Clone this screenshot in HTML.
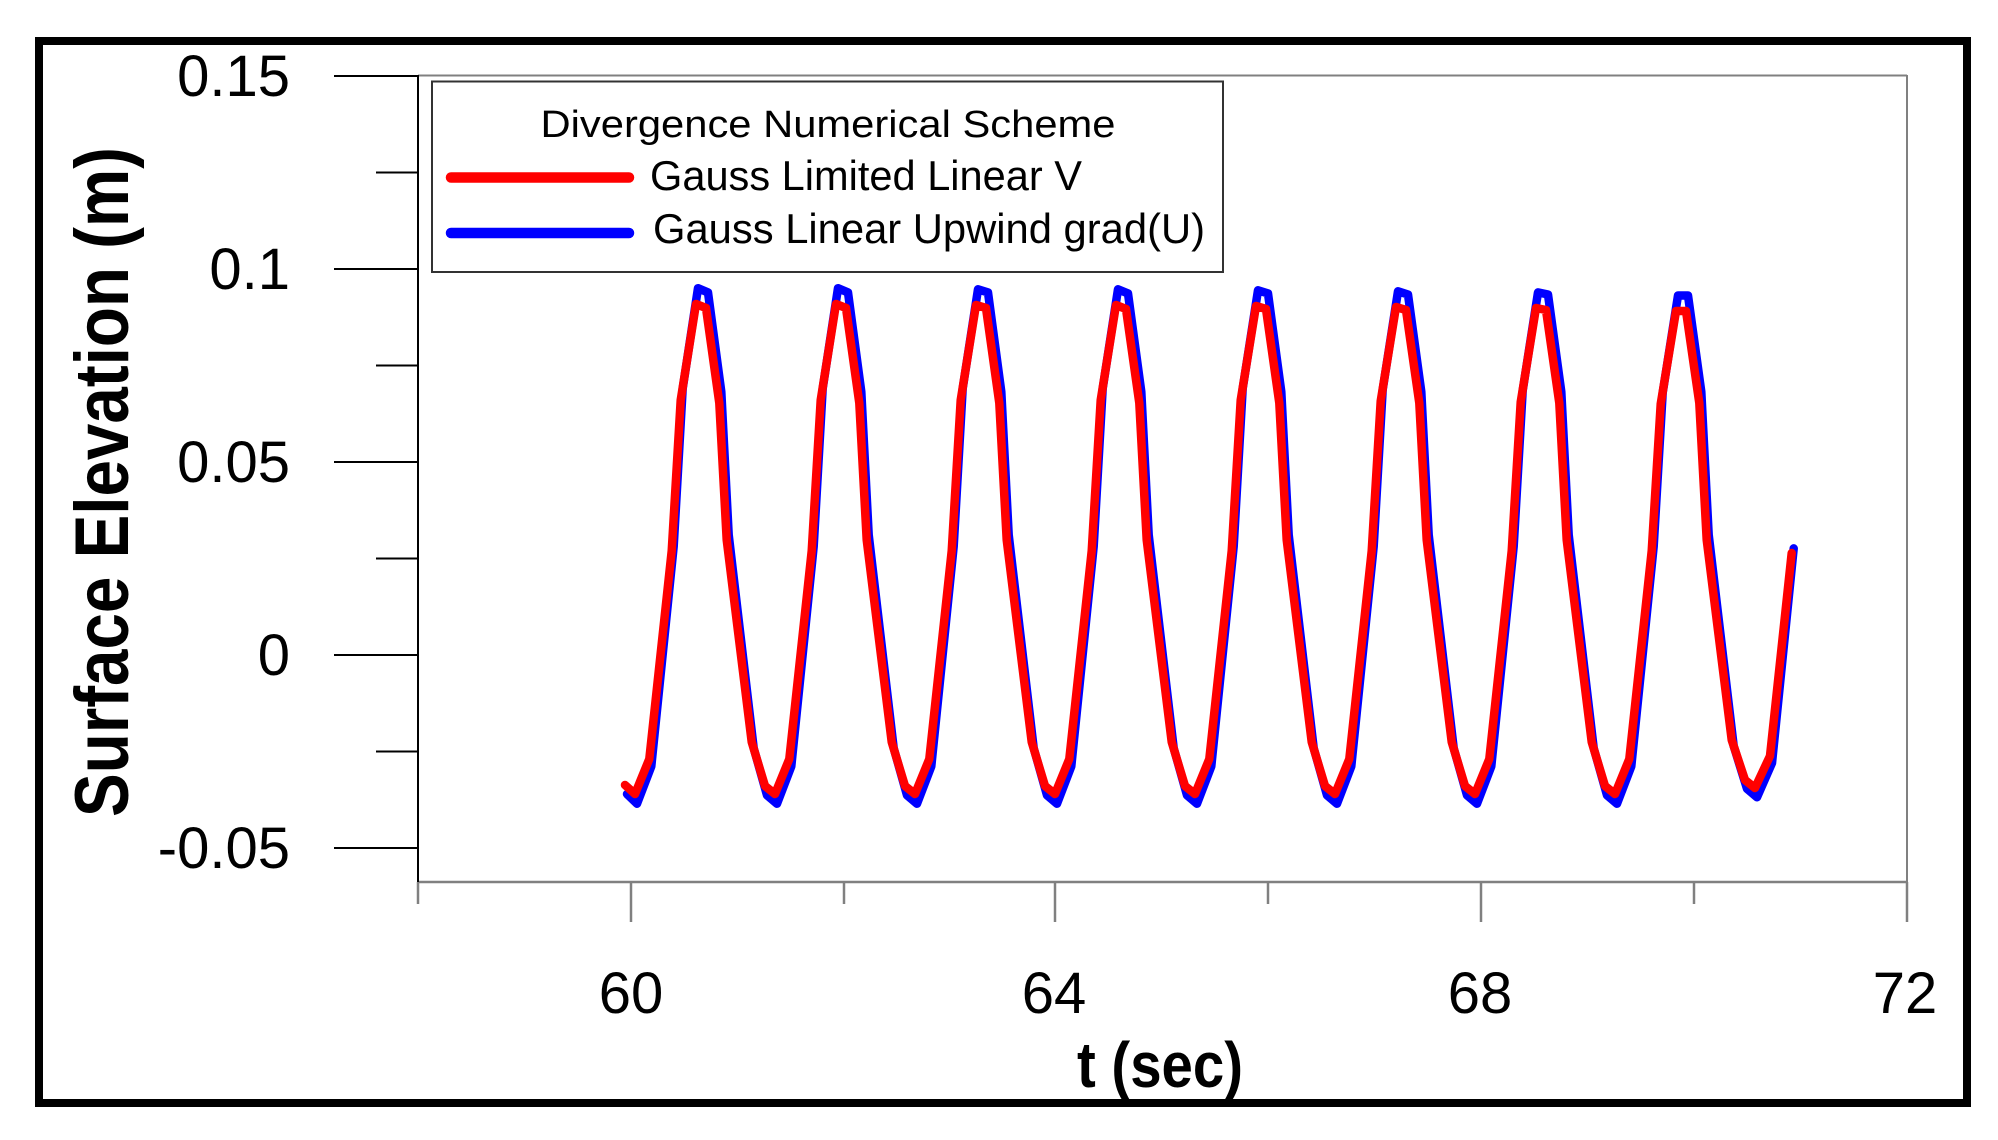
<!DOCTYPE html>
<html>
<head>
<meta charset="utf-8">
<style>
  html, body { margin:0; padding:0; background:#ffffff; }
  svg { display:block; }
  text { font-family: "Liberation Sans", Arial, sans-serif; fill:#000; }
</style>
</head>
<body>
<svg width="1998" height="1140" viewBox="0 0 1998 1140" xmlns="http://www.w3.org/2000/svg">
  <rect x="0" y="0" width="1998" height="1140" fill="#ffffff"/>
  <!-- outer frame -->
  <rect x="39" y="41" width="1928" height="1062" fill="none" stroke="#000" stroke-width="8"/>

  <!-- plot area border -->
  <line x1="418" y1="75.5" x2="1907" y2="75.5" stroke="#808080" stroke-width="2"/>
  <line x1="1907" y1="75" x2="1907" y2="882" stroke="#808080" stroke-width="2"/>
  <!-- x axis -->
  <line x1="418" y1="882" x2="1908" y2="882" stroke="#808080" stroke-width="2.5"/>
  <!-- y axis -->
  <line x1="418" y1="75" x2="418" y2="882" stroke="#000" stroke-width="2"/>

  <!-- y major ticks -->
  <g stroke="#000" stroke-width="2">
    <line x1="334" y1="76" x2="418" y2="76"/>
    <line x1="334" y1="269" x2="418" y2="269"/>
    <line x1="334" y1="462" x2="418" y2="462"/>
    <line x1="334" y1="655" x2="418" y2="655"/>
    <line x1="334" y1="848" x2="418" y2="848"/>
    <!-- minor -->
    <line x1="376" y1="172.5" x2="418" y2="172.5"/>
    <line x1="376" y1="365.5" x2="418" y2="365.5"/>
    <line x1="376" y1="558.5" x2="418" y2="558.5"/>
    <line x1="376" y1="751.5" x2="418" y2="751.5"/>
  </g>

  <!-- x ticks -->
  <g stroke="#808080" stroke-width="2.5">
    <line x1="418" y1="882" x2="418" y2="904"/>
    <line x1="631" y1="882" x2="631" y2="922"/>
    <line x1="844" y1="882" x2="844" y2="904"/>
    <line x1="1055" y1="882" x2="1055" y2="922"/>
    <line x1="1268" y1="882" x2="1268" y2="904"/>
    <line x1="1481" y1="882" x2="1481" y2="922"/>
    <line x1="1694" y1="882" x2="1694" y2="904"/>
    <line x1="1907" y1="882" x2="1907" y2="922"/>
  </g>

  <!-- y tick labels -->
  <g font-size="58" text-anchor="end">
    <text x="290" y="96">0.15</text>
    <text x="290" y="289">0.1</text>
    <text x="290" y="482">0.05</text>
    <text x="290" y="675">0</text>
    <text x="290" y="868">-0.05</text>
  </g>

  <!-- x tick labels -->
  <g font-size="58" text-anchor="middle">
    <text x="631" y="1013">60</text>
    <text x="1054" y="1013">64</text>
    <text x="1480" y="1013">68</text>
    <text x="1905" y="1013">72</text>
  </g>

  <!-- axis titles -->
  <text transform="translate(128,482) rotate(-90)" text-anchor="middle" font-weight="bold" font-size="76" textLength="670" lengthAdjust="spacingAndGlyphs">Surface Elevation (m)</text>
  <text x="1160" y="1087" text-anchor="middle" font-weight="bold" font-size="64" textLength="166" lengthAdjust="spacingAndGlyphs">t (sec)</text>

  <!-- series: blue -->
  <polyline fill="none" stroke="#0000ff" stroke-width="8.5" stroke-linejoin="round" stroke-linecap="round" points="
627,794.1 637,803.7 651.3,766.3 673.7,546.3 682.7,388.5 698,288.2 708,292.4 721.3,391.7 728.7,534.8 753.7,748.1
767,795.2 777,803.7 791.3,766.3 813.7,546.3 822.7,388.5 838,288.2 848,292.4 861.3,391.7 868.7,534.8 893.7,748.1
907,795.2 917,803.7 931.3,766.3 953.7,546.3 962.7,388.5 978,289.3 988,292.4 1001.3,391.7 1008.7,534.8 1033.7,748.1
1047,795.2 1057,803.7 1071.3,766.3 1093.7,546.3 1102.7,388.5 1118,289.3 1128,293.4 1141.3,391.7 1148.7,534.8 1173.7,748.1
1187,795.2 1197,803.7 1211.3,766.3 1233.7,546.3 1242.7,388.5 1258,290.3 1268,293.4 1281.3,391.7 1288.7,534.8 1313.7,748.1
1327,795.2 1337,803.7 1351.3,766.3 1373.7,546.3 1382.7,389.6 1398,291.3 1408,294.5 1421.3,391.7 1428.7,534.8 1453.7,748.1
1467,795.2 1477,803.7 1491.3,766.3 1513.7,546.3 1522.7,390.6 1538,292.4 1548,294.5 1561.3,391.7 1568.7,534.8 1593.7,748.1
1607,795.2 1617,803.7 1631.3,766.3 1653.7,546.3 1662.7,392.7 1678,295.5 1688,295.5 1701.3,391.7 1708.7,534.8 1733.7,746
1747,788.8 1757,797.3 1772,763.1 1793.7,548.4"/>

  <!-- series: red -->
  <polyline fill="none" stroke="#ff0000" stroke-width="8.5" stroke-linejoin="round" stroke-linecap="round" points="
625,785 635,794 649.3,759 671.7,551 680.7,400 696,304 706,308 719.3,403 726.7,540 751.7,742
765,786 775,794 789.3,759 811.7,551 820.7,400 836,304 846,308 859.3,403 866.7,540 891.7,742
905,786 915,794 929.3,759 951.7,551 960.7,400 976,305 986,308 999.3,403 1006.7,540 1031.7,742
1045,786 1055,794 1069.3,759 1091.7,551 1100.7,400 1116,305 1126,309 1139.3,403 1146.7,540 1171.7,742
1185,786 1195,794 1209.3,759 1231.7,551 1240.7,400 1256,306 1266,309 1279.3,403 1286.7,540 1311.7,742
1325,786 1335,794 1349.3,759 1371.7,551 1380.7,401 1396,307 1406,310 1419.3,403 1426.7,540 1451.7,742
1465,786 1475,794 1489.3,759 1511.7,551 1520.7,402 1536,308 1546,310 1559.3,403 1566.7,540 1591.7,742
1605,786 1615,794 1629.3,759 1651.7,551 1660.7,404 1676,311 1686,311 1699.3,403 1706.7,540 1731.7,740
1745,780 1755,788 1770,756 1791.7,553"/>

  <!-- legend -->
  <rect x="432" y="81.5" width="791" height="190.5" fill="#ffffff" stroke="#333" stroke-width="2"/>
  <text x="828" y="137" text-anchor="middle" font-size="38" textLength="575" lengthAdjust="spacingAndGlyphs">Divergence Numerical Scheme</text>
  <line x1="451" y1="177.5" x2="629" y2="177.5" stroke="#ff0000" stroke-width="10.5" stroke-linecap="round"/>
  <text x="650" y="190" font-size="42" textLength="432" lengthAdjust="spacingAndGlyphs">Gauss Limited Linear V</text>
  <line x1="451" y1="233" x2="629" y2="233" stroke="#0000ff" stroke-width="10.5" stroke-linecap="round"/>
  <text x="653" y="243" font-size="42" textLength="552" lengthAdjust="spacingAndGlyphs">Gauss Linear Upwind grad(U)</text>
</svg>
</body>
</html>
